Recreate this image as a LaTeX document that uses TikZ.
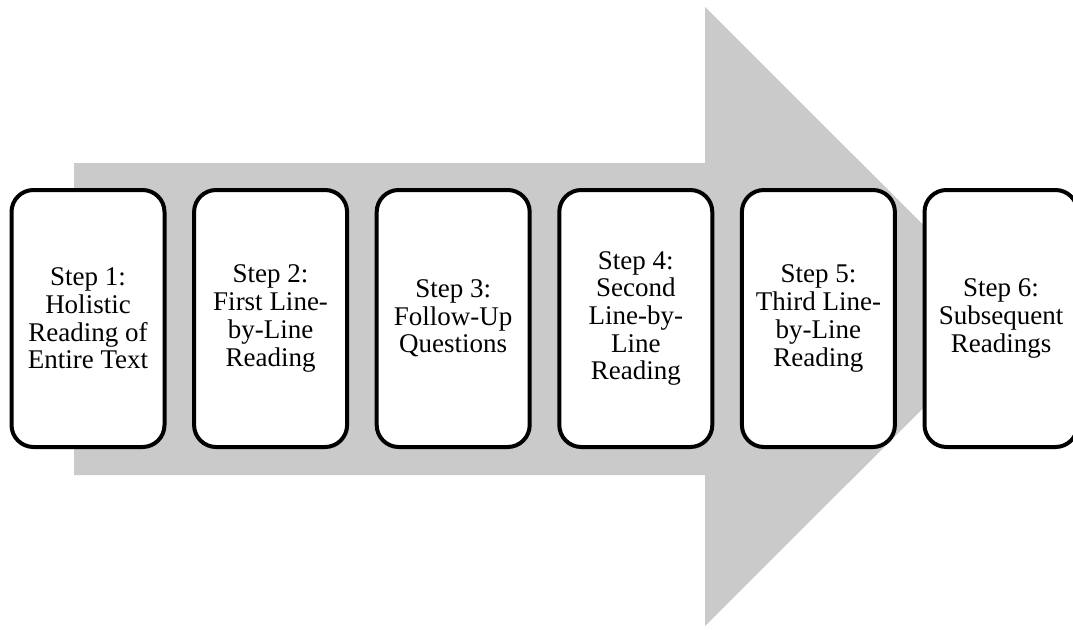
\documentclass[tikz,border=0pt]{standalone}
\usepackage{fontspec}
\setmainfont{Liberation Serif}
\usepackage{xcolor}
\usetikzlibrary{positioning}

\definecolor{arrowgray}{RGB}{202,202,202}
\tikzset{
  stepbox/.style={rectangle, draw=black, line width=4pt, rounded corners=22pt, fill=white,
    minimum width=153pt, minimum height=257pt, inner sep=0pt, align=center,
    font=\fontsize{27}{27.7}\selectfont},
}

\begin{document}
\begin{tikzpicture}[x=1pt, y=-1pt]
                \useasboundingbox (0,0) rectangle (1073,629);
                % big arrow behind the steps
                \fill[arrowgray] (74,163) -- (705,163) -- (705,7) -- (1015,316.5)
                    -- (705,626) -- (705,475) -- (74,475) -- cycle;

                \node[stepbox] (s1) at (88,318.5) {Step 1:\\Holistic\\Reading of\\Entire Text};
                \node[stepbox] (s2) at (270.6,318.5) {Step 2:\\First Line-\\by-Line\\Reading};
                \node[stepbox] (s3) at (453.2,318.5) {Step 3:\\Follow-Up\\Questions};
                \node[stepbox] (s4) at (635.8,318.5) {Step 4:\\Second\\Line-by-\\Line\\Reading};
                \node[stepbox] (s5) at (818.4,318.5) {Step 5:\\Third Line-\\by-Line\\Reading};
                \node[stepbox] (s6) at (1001,318.5) {Step 6:\\Subsequent\\Readings};
            \end{tikzpicture}
\end{document}
